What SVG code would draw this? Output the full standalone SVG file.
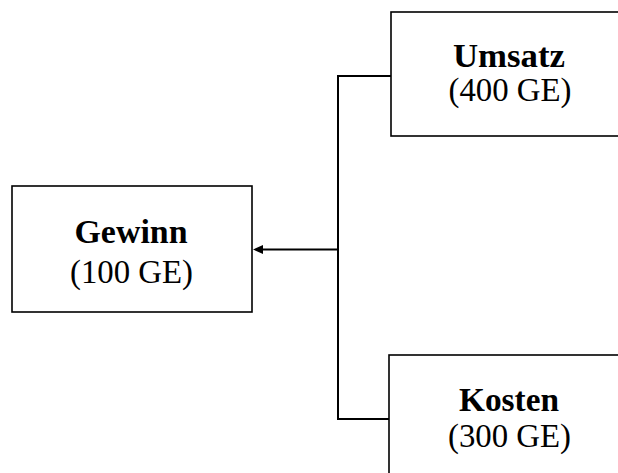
<svg xmlns="http://www.w3.org/2000/svg" width="618" height="473" viewBox="0 0 618 473">
<style>
.box{fill:#fff;stroke:#000;stroke-width:1.6}
.conn{fill:none;stroke:#000;stroke-width:2}
.t{font-family:"Liberation Serif","Times New Roman",serif;font-size:33px;text-anchor:middle;fill:#000}
.b{font-weight:bold}
</style>
<g id="connectors">
<polyline class="conn" points="391,76 338,76 338,419 389,419"/>
<line class="conn" x1="338" y1="249.5" x2="262" y2="249.5"/>
<path d="M263,245 L253,249.5 L263,254 Z" fill="#000"/>
</g>
<g id="gewinn">
<rect class="box" x="12" y="186" width="240" height="126"/>
<text class="t b" x="131" y="243" textLength="113" lengthAdjust="spacingAndGlyphs">Gewinn</text>
<text class="t" x="131.5" y="283" textLength="123" lengthAdjust="spacingAndGlyphs">(100 GE)</text>
</g>
<g id="umsatz">
<rect class="box" x="391" y="12" width="240" height="124"/>
<text class="t b" x="509" y="66.5" textLength="112" lengthAdjust="spacingAndGlyphs">Umsatz</text>
<text class="t" x="510" y="101" textLength="123" lengthAdjust="spacingAndGlyphs">(400 GE)</text>
</g>
<g id="kosten">
<rect class="box" x="389" y="355" width="240" height="130"/>
<text class="t b" x="509" y="411" textLength="100" lengthAdjust="spacingAndGlyphs">Kosten</text>
<text class="t" x="509.5" y="446.5" textLength="123" lengthAdjust="spacingAndGlyphs">(300 GE)</text>
</g>
</svg>
